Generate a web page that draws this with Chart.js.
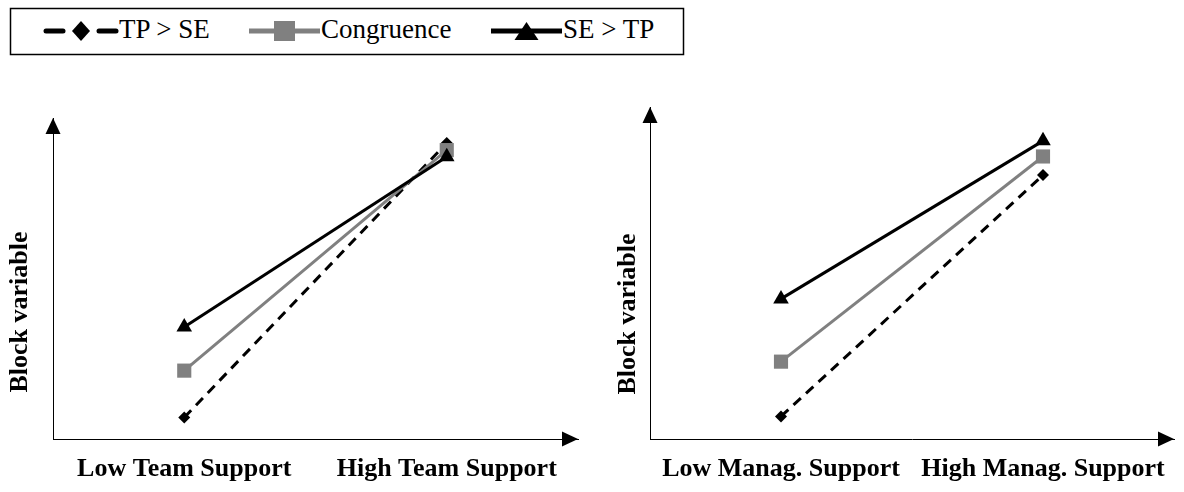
<!DOCTYPE html>
<html>
<head>
<meta charset="utf-8">
<script src="https://cdn.jsdelivr.net/npm/chart.js@4.4.1/dist/chart.umd.min.js"></script>
<style>
  html, body { margin:0; padding:0; background:#fff; width:1184px; height:492px; overflow:hidden; }
  body { position:relative; }
  #c1 { position:absolute; left:0; top:0; }
  #c2 { position:absolute; left:600px; top:0; }
  #legend { position:absolute; left:0; top:0; }
  #legend text { font-family: "Liberation Serif", "Times New Roman", serif; font-size: 27px; }
</style>
</head>
<body>
<canvas id="c1" width="600" height="492"></canvas>
<canvas id="c2" width="584" height="492"></canvas>
<svg id="legend" width="700" height="60" xmlns="http://www.w3.org/2000/svg"></svg>
<script>
// ---------- data ----------
const seriesNames = ['TP > SE', 'Congruence', 'SE > TP'];
const teamLabels = ['Low Team Support', 'High Team Support'];
const managLabels = ['Low Manag. Support', 'High Manag. Support'];
const yTitle = 'Block variable';

const teamTPgtSE = [6.7, 92.2];
const teamCongruence = [21.3, 90.0];
const teamSEgtTP = [34.9, 87.9];

const managTPgtSE = [6.8, 79.5];
const managCongruence = [23.3, 85.1];
const managSEgtTP = [42.2, 89.8];

// ---------- styles ----------
const GRAY = '#808080';
const seriesStyles = [
  { color:'#000', dash:[10,7], pointStyle:'rectRot', radius:6, order:3 },
  { color:GRAY, dash:[], pointStyle:'rect', radius:10, order:2 },
  { color:'#000', dash:[], pointStyle:'triangle', radius:9, order:1 }
];
const SERIF = '"Liberation Serif", "Times New Roman", serif';

const axisPlugin = {
  id: 'axisDeco',
  afterDraw(chart, args, opts) {
    const { ctx, chartArea: { left, right, top, bottom } } = chart;
    ctx.save();
    ctx.fillStyle = '#000';
    ctx.beginPath();
    ctx.moveTo(left, top);
    ctx.lineTo(left - 7.5, top + 16);
    ctx.lineTo(left + 7.5, top + 16);
    ctx.closePath();
    ctx.fill();
    ctx.beginPath();
    ctx.moveTo(right, bottom);
    ctx.lineTo(right - 16, bottom - 7.5);
    ctx.lineTo(right - 16, bottom + 7.5);
    ctx.closePath();
    ctx.fill();
    ctx.translate(opts.titleX, opts.titleY);
    ctx.rotate(-Math.PI / 2);
    ctx.font = 'bold 26px ' + SERIF;
    ctx.textAlign = 'center';
    ctx.textBaseline = 'middle';
    ctx.fillText(opts.title, 0, 0);
    ctx.restore();
  }
};

function makeDatasets(values) {
  return values.map((v, i) => {
    const s = seriesStyles[i];
    return {
      label: seriesNames[i],
      data: v,
      borderColor: s.color,
      backgroundColor: s.color,
      borderWidth: 3,
      borderDash: s.dash,
      pointStyle: s.pointStyle,
      pointRadius: s.radius,
      pointBackgroundColor: s.color,
      pointBorderColor: s.color,
      pointBorderWidth: 0,
      order: s.order,
      tension: 0
    };
  });
}

function makeChart(id, labels, values, padding, titleX, titleY) {
  return new Chart(document.getElementById(id), {
    type: 'line',
    data: { labels: labels, datasets: makeDatasets(values) },
    options: {
      responsive: false,
      animation: false,
      layout: { padding: padding },
      plugins: {
        legend: { display: false },
        tooltip: { enabled: false },
        axisDeco: { title: yTitle, titleX: titleX, titleY: titleY }
      },
      scales: {
        x: {
          type: 'category',
          offset: true,
          grid: { display: false, drawTicks: false },
          border: { display: true, color: '#000', width: 1 },
          ticks: {
            color: '#000',
            font: { family: SERIF, size: 26, weight: 'bold' },
            padding: 15,
            autoSkip: false,
            maxRotation: 0,
            minRotation: 0
          },
          afterFit(s) { s.height = 53; }
        },
        y: {
          min: 0, max: 100,
          grid: { display: false, drawTicks: false },
          border: { display: true, color: '#000', width: 1 },
          ticks: { display: false }
        }
      }
    },
    plugins: [axisPlugin]
  });
}

makeChart('c1', teamLabels, [teamTPgtSE, teamCongruence, teamSEgtTP],
  { left: 53, right: 22, top: 118, bottom: 0 }, 20, 312);
makeChart('c2', managLabels, [managTPgtSE, managCongruence, managSEgtTP],
  { left: 50, right: 7, top: 107, bottom: 0 }, 28, 314);

// ---------- legend ----------
(function buildLegend() {
  const svg = document.getElementById('legend');
  const NS = 'http://www.w3.org/2000/svg';
  function el(tag, attrs, text) {
    const e = document.createElementNS(NS, tag);
    for (const k in attrs) e.setAttribute(k, attrs[k]);
    if (text) e.textContent = text;
    svg.appendChild(e);
    return e;
  }
  el('rect', { x: 10.5, y: 8.5, width: 673, height: 46, fill: '#fff', stroke: '#000', 'stroke-width': 1.5 });
  const items = [
    { x0: 44, x1: 118, tx: 119 },
    { x0: 249, x1: 320, tx: 321 },
    { x0: 491, x1: 562, tx: 563 }
  ];
  const cy = 31;
  items.forEach((it, i) => {
    const s = seriesStyles[i];
    const mid = (it.x0 + it.x1) / 2;
    if (s.pointStyle === 'rectRot') {
      el('line', { x1: it.x0 + 2, y1: cy, x2: it.x0 + 19, y2: cy, stroke: s.color, 'stroke-width': 5, 'stroke-linecap': 'round' });
      el('line', { x1: it.x1 - 19, y1: cy, x2: it.x1 - 2, y2: cy, stroke: s.color, 'stroke-width': 5, 'stroke-linecap': 'round' });
      el('polygon', { points: `${mid},${cy - 10} ${mid + 9},${cy} ${mid},${cy + 10} ${mid - 9},${cy}`, fill: s.color });
    } else if (s.pointStyle === 'rect') {
      el('line', { x1: it.x0, y1: cy, x2: it.x1, y2: cy, stroke: s.color, 'stroke-width': 5 });
      el('rect', { x: mid - 10.5, y: cy - 10, width: 21, height: 20, fill: s.color });
    } else {
      el('line', { x1: it.x0, y1: cy, x2: it.x1, y2: cy, stroke: s.color, 'stroke-width': 5 });
      el('polygon', { points: `${mid},${cy - 9} ${mid + 12},${cy + 9} ${mid - 12},${cy + 9}`, fill: s.color });
    }
    el('text', { x: it.tx, y: 38 }, seriesNames[i]);
  });
})();
</script>
</body>
</html>
